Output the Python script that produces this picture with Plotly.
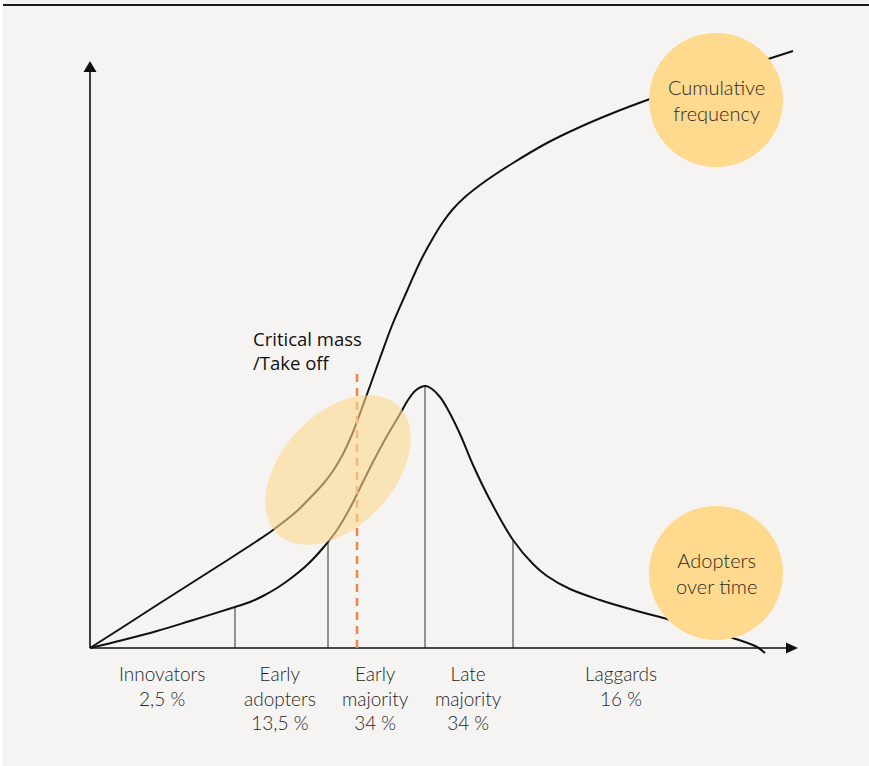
import numpy as np
import plotly.graph_objects as go

# ---- data (time units on x, adoption units on y; origin at the axes corner) ----
cum_x = [0, 33, 67, 100, 133, 167, 183, 207, 220, 233, 243, 253, 263, 272, 280, 290,
         303, 317, 330, 343, 353, 363, 375, 397, 423, 457, 490, 523, 560, 610, 660, 703]
cum_y = [0, 21, 43, 64, 85, 107, 118, 137, 150, 164, 177, 194, 216, 240, 262, 290,
         325, 357, 386, 410, 426, 439, 451, 468, 485, 505, 521, 535, 549, 566, 583, 597]

bell_x = [0, 33, 67, 100, 145, 160, 173, 187, 200, 217, 233, 247, 260, 270, 283, 297,
          310, 318, 325, 331, 336, 342, 350, 357, 370, 383, 400, 423, 443, 457, 480,
          510, 540, 577, 610, 643, 667, 675]
bell_y = [0, 8, 17, 27, 41, 46, 52, 60, 69, 83, 100, 118, 140, 160, 186, 212,
          234, 248, 257, 261, 262, 259, 251, 240, 214, 183, 148, 108, 84, 72, 59,
          48, 39, 29, 20, 10, 1, -5]

segment_edges = [145, 238, 335, 423]
segment_labels = ["Innovators<br>2,5 %", "Early<br>adopters<br>13,5 %",
                  "Early<br>majority<br>34 %", "Late<br>majority<br>34 %",
                  "Laggards<br>16 %"]
segment_label_x = [72, 190, 285, 378, 531]

critical_x = 267
critical_top = 280
critical_text = "Critical mass<br>/Take off"

circle_labels = ["Cumulative<br>frequency", "Adopters<br>over time"]
circle_centers = [(626, 548), (626, 75)]
circle_r = 67

ellipse_center = (248, 178)
ellipse_axes = (88, 56)
ellipse_angle = 47

x_end = 708
y_end = 587

BG = "#f5f4f2"
YEL = "#fed98e"

fig = go.Figure()

# curves
for xs, ys in ((cum_x, cum_y), (bell_x, bell_y)):
    fig.add_trace(go.Scatter(x=xs, y=ys, mode="lines",
                             line=dict(color="#111111", width=2, shape="spline", smoothing=1.0),
                             hoverinfo="skip", showlegend=False))

shapes = []
# white left strip
shapes.append(dict(type="rect", xref="paper", yref="paper", x0=0, x1=3 / 869, y0=0, y1=1,
                   fillcolor="white", line=dict(width=0), layer="below"))
# segment separators
for ex in segment_edges:
    top = float(np.interp(ex, bell_x, bell_y))
    shapes.append(dict(type="line", x0=ex, x1=ex, y0=0, y1=top, line=dict(color="#333333", width=1), layer="below"))

# axes
shapes.append(dict(type="line", x0=0, x1=x_end - 10, y0=0, y1=0, line=dict(color="#111111", width=1.6)))
shapes.append(dict(type="line", x0=0, x1=0, y0=0, y1=y_end - 10, line=dict(color="#111111", width=1.6)))
shapes.append(dict(type="path", path=f"M {x_end-12},5.5 L {x_end},0 L {x_end-12},-5.5 Z",
                   fillcolor="#111111", line=dict(width=0)))
shapes.append(dict(type="path", path=f"M -6.5,{y_end-11} L 0,{y_end} L 6.5,{y_end-11} Z",
                   fillcolor="#111111", line=dict(width=0)))

# critical mass dashed line
shapes.append(dict(type="line", x0=critical_x, x1=critical_x, y0=0, y1=critical_top,
                   line=dict(color="#f2844a", width=2.5, dash="8px,6px")))

# ellipse (rotated)
t = np.linspace(0, 2 * np.pi, 90)
a, b = ellipse_axes
th = np.deg2rad(ellipse_angle)
ex_ = ellipse_center[0] + a * np.cos(t) * np.cos(th) - b * np.sin(t) * np.sin(th)
ey_ = ellipse_center[1] + a * np.cos(t) * np.sin(th) + b * np.sin(t) * np.cos(th)
path = "M " + " L ".join(f"{px:.2f},{py:.2f}" for px, py in zip(ex_, ey_)) + " Z"
shapes.append(dict(type="path", path=path, fillcolor=YEL, opacity=0.6, line=dict(width=0), layer="above"))

# circles
for cx, cy in circle_centers:
    shapes.append(dict(type="circle", x0=cx - circle_r, x1=cx + circle_r, y0=cy - circle_r, y1=cy + circle_r,
                       fillcolor=YEL, line=dict(width=0), layer="above"))

# top rule
shapes.append(dict(type="line", xref="paper", yref="paper", x0=3 / 869, x1=1, y0=1 - 5 / 766, y1=1 - 5 / 766,
                   line=dict(color="#1a1a1a", width=2)))

annotations = []
for lbl, lx in zip(segment_labels, segment_label_x):
    annotations.append(dict(x=lx, y=-12, text=lbl, showarrow=False, xanchor="center", yanchor="top",
                            font=dict(family="Lato", size=19, color="#262626", weight=300), align="center"))
for lbl, (cx, cy) in zip(circle_labels, circle_centers):
    annotations.append(dict(x=cx, y=cy, text=lbl, showarrow=False, xanchor="center", yanchor="middle",
                            font=dict(family="Lato", size=20, color="#2e2a25", weight=300), align="center"))
annotations.append(dict(x=161, y=324, text=critical_text, showarrow=False, xanchor="left", yanchor="top",
                        font=dict(family="Open Sans", size=18.5, color="#111111"), align="left"))

fig.update_layout(
    width=869, height=766, margin=dict(l=0, r=0, t=0, b=0),
    paper_bgcolor=BG, plot_bgcolor=BG,
    xaxis=dict(range=[-90, 779], visible=False, fixedrange=True),
    yaxis=dict(range=[-118, 648], visible=False, fixedrange=True),
    shapes=shapes, annotations=annotations, showlegend=False,
)

fig.write_html("out.html", config={"displayModeBar": False},
               post_script="document.body.style.margin='0';document.body.style.overflow='hidden';")
